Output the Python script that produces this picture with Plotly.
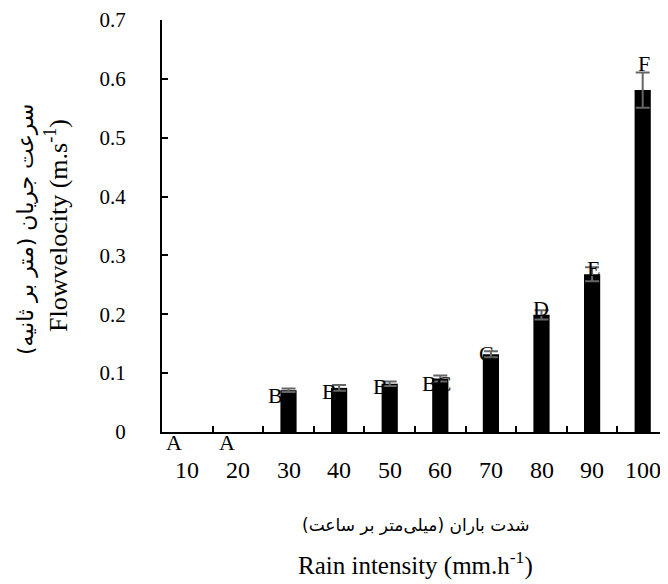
import plotly.graph_objects as go

categories = ["10", "20", "30", "40", "50", "60", "70", "80", "90", "100"]
velocity = [0, 0, 0.071, 0.075, 0.082, 0.091, 0.132, 0.199, 0.268, 0.581]
errors = [0, 0, 0.003, 0.005, 0.004, 0.005, 0.005, 0.008, 0.012, 0.030]
letters = ["A", "A", "B", "B", "B", "BC", "C", "D", "E", "F"]

SERIF = "Liberation Serif"
ARABIC = "DejaVu Sans"

# zero bars are not drawn at all (no sliver, no whisker)
bar_drawn = [v if v > 0 else None for v in velocity]
err_drawn = [e if v > 0 else None for v, e in zip(velocity, errors)]

fig = go.Figure()
fig.add_trace(go.Bar(
    x=categories, y=bar_drawn, width=0.32,
    marker=dict(color="black", line=dict(width=0)),
    error_y=dict(type="data", array=err_drawn, visible=True,
                 color="#666666", thickness=2, width=7),
    showlegend=False,
))

# significance letters (pixel offsets); x given as category index
letter_xshift = [-13, -11, -13, -10, -9, -4, -4, -1, 1, 1]
letter_yshift = [4, 4, -5, -4, -3, -5, 1, 6, 6, -6]
for i, (v, e, t) in enumerate(zip(velocity, errors, letters)):
    f = dict(family=SERIF, size=22, color="black")
    if v == 0:
        fig.add_annotation(x=i, y=0, text=t, showarrow=False, yanchor="top",
                           xanchor="center", xshift=letter_xshift[i],
                           yshift=letter_yshift[i], font=f)
    elif t == "F":
        fig.add_annotation(x=i, y=v + e, text=t, showarrow=False, yanchor="bottom",
                           xanchor="center", xshift=letter_xshift[i],
                           yshift=letter_yshift[i], font=f)
    else:
        fig.add_annotation(x=i, y=v, text=t, showarrow=False, yanchor="middle",
                           xanchor="center", xshift=letter_xshift[i],
                           yshift=letter_yshift[i], font=f)

# x tick labels
for i, c in enumerate(categories):
    fig.add_annotation(x=i, y=0, text=c, showarrow=False, yanchor="middle",
                       xanchor="center", yshift=-38,
                       font=dict(family=SERIF, size=24, color="black"))

# axis titles
fig.add_annotation(xref="paper", yref="paper", x=0, y=0.5, xshift=-137, yshift=-4,
                   xanchor="center", yanchor="middle",
                   text="سرعت جریان (متر بر ثانیه)", textangle=-90, showarrow=False,
                   font=dict(family=ARABIC, size=22, color="black"))
fig.add_annotation(xref="paper", yref="paper", x=0, y=0.5, xshift=-106,
                   xanchor="center", yanchor="middle",
                   text="Flowvelocity (m.s<sup>-1</sup>)", textangle=-90, showarrow=False,
                   font=dict(family=SERIF, size=26, color="black"))
fig.add_annotation(xref="paper", yref="paper", x=0.5, y=0, yshift=-93,
                   xanchor="center", yanchor="middle",
                   text="شدت باران (میلی‌متر بر ساعت)", showarrow=False,
                   font=dict(family=ARABIC, size=17, color="black"))
fig.add_annotation(xref="paper", yref="paper", x=0.5, y=0, yshift=-131,
                   xanchor="center", yanchor="middle",
                   text="Rain intensity (mm.h<sup>-1</sup>)", showarrow=False,
                   font=dict(family=SERIF, size=25, color="black"))

# the page body adds an 8px margin, so the figure is 8px smaller on each side
fig.update_layout(
    width=660, height=576,
    margin=dict(l=154, r=0, t=12, b=152),
    plot_bgcolor="white", paper_bgcolor="white",
    font=dict(family=SERIF, color="black"),
    xaxis=dict(type="category", showticklabels=False, showline=True, linecolor="black",
               linewidth=2, ticks="inside", ticklen=6, tickwidth=2, tickcolor="black",
               tickson="boundaries", showgrid=False, zeroline=False,
               range=[-0.5, 9.5]),
    yaxis=dict(range=[0, 0.7], tickvals=[0, 0.1, 0.2, 0.3, 0.4, 0.5, 0.6, 0.7],
               ticktext=["0", "0.1", "0.2", "0.3", "0.4", "0.5", "0.6", "0.7"],
               showline=True, linecolor="black", linewidth=2,
               ticks="inside", ticklen=6, tickwidth=2, tickcolor="black",
               showgrid=False, zeroline=False, ticklabelstandoff=30,
               tickfont=dict(family=SERIF, size=21, color="black")),
)

fig.write_html("out.html")
